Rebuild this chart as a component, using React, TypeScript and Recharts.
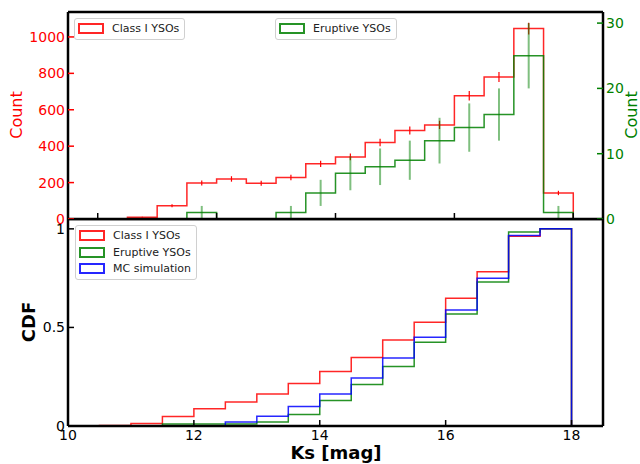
import React from 'react';
import { ComposedChart, Line, Scatter, ErrorBar, XAxis, YAxis, ReferenceLine } from 'recharts';

// bin edges of the Ks histograms (0.5 mag bins)
const binEdges = [10.5, 11, 11.5, 12, 12.5, 13, 13.5, 14, 14.5, 15, 15.5, 16, 16.5, 17, 17.5, 18];
const binCenters = [10.75, 11.25, 11.75, 12.25, 12.75, 13.25, 13.75, 14.25, 14.75, 15.25, 15.75, 16.25, 16.75, 17.25, 17.75];

// top panel: counts per bin
const classCounts = [10, 73, 198, 220, 196, 228, 303, 341, 420, 486, 517, 677, 780, 1046, 143];
const classErrors = [3, 8.5, 14, 15, 14, 15, 17, 18.5, 20.5, 22, 22.7, 26, 28, 32, 12];
const eruptiveCounts = [0, 0, 1, 0, 0, 1, 4, 7, 8, 9, 12, 14, 16, 25, 1];
const eruptiveErrors = [0, 0, 1, 0, 0, 1, 2, 2.6, 2.8, 3, 3.5, 3.7, 4, 5, 1];

// bottom panel: cumulative distributions
const classCdf = [0.002, 0.013, 0.048, 0.088, 0.122, 0.162, 0.216, 0.277, 0.348, 0.436, 0.526, 0.648, 0.783, 0.963, 1.0];
const eruptiveCdf = [0, 0, 0.01, 0.01, 0.01, 0.02, 0.058, 0.129, 0.21, 0.302, 0.425, 0.568, 0.73, 0.984, 1.0];
const mcCdf = [0, 0, 0, 0, 0.02, 0.05, 0.099, 0.162, 0.243, 0.345, 0.45, 0.589, 0.75, 0.966, 1.0];

const magTicks = [10, 12, 14, 16, 18];
const countTicks = [0, 200, 400, 600, 800, 1000];
const eruptiveTicks = [0, 10, 20, 30];
const cdfTicks = [0, 0.5, 1];

const FONT = 'DejaVu Sans';
const RED = '#ff0000';
const GREEN = '#008000';
const BLUE = '#0000ff';

// outline of a step histogram, like histtype='step'
function stepData(values: number[]) {
  const pts = [{ x: binEdges[0], y: 0 }];
  values.forEach((v, i) => pts.push({ x: binEdges[i], y: v }));
  pts.push({ x: binEdges[binEdges.length - 1], y: 0 });
  return pts;
}

function errData(values: number[], errors: number[]) {
  return binCenters
    .map((x, i) => ({ x, y: values[i], err: errors[i] }))
    .filter((d) => d.y > 0);
}

const xTick = (showLabel: boolean) => (props: any) => {
  const { x, y, payload } = props;
  return (
    <g>
      <line x1={x} x2={x} y1={y} y2={y - 6} stroke="#000" strokeWidth={1.5} />
      {showLabel && (
        <text x={x} y={y + 14} textAnchor="middle" fontSize={14} fontFamily={FONT} fill="#000">
          {payload.value}
        </text>
      )}
    </g>
  );
};

const leftTick = (color: string) => (props: any) => {
  const { x, y, payload } = props;
  return (
    <g>
      <line x1={x} x2={x + 6} y1={y} y2={y} stroke={color} strokeWidth={1.5} />
      <text x={x - 3} y={y} dy={5} textAnchor="end" fontSize={14} fontFamily={FONT} fill={color}>
        {payload.value}
      </text>
    </g>
  );
};

const rightTick = (color: string) => (props: any) => {
  const { x, y, payload } = props;
  return (
    <g>
      <line x1={x - 6} x2={x} y1={y} y2={y} stroke={color} strokeWidth={1.5} />
      <text x={x + 3} y={y} dy={5} textAnchor="start" fontSize={14} fontFamily={FONT} fill={color}>
        {payload.value}
      </text>
    </g>
  );
};

const spine = { stroke: '#000', strokeWidth: 2.5 };
const noShape = () => <g />;

function LegendBox({ left, top, width, items }: { left: number; top: number; width: number; items: { label: string; color: string }[] }) {
  return (
    <div
      style={{
        position: 'absolute',
        left,
        top,
        width,
        padding: '1px 0 2px',
        background: 'rgba(255,255,255,0.8)',
        border: '1px solid #d0d0d0',
        borderRadius: 3,
        boxSizing: 'border-box',
      }}
    >
      {items.map((it) => (
        <div key={it.label} style={{ display: 'flex', alignItems: 'center', height: 16.7 }}>
          <div style={{ width: 22, height: 7, border: `2px solid ${it.color}`, marginLeft: 3, marginRight: 8, opacity: 0.85 }} />
          <span style={{ fontSize: 11, fontFamily: FONT, color: '#222', whiteSpace: 'nowrap' }}>{it.label}</span>
        </div>
      ))}
    </div>
  );
}

function AxisTitle({ text, cx, cy, color, bold, size, rotate }: { text: string; cx: number; cy: number; color: string; bold?: boolean; size: number; rotate?: boolean }) {
  return (
    <div
      style={{
        position: 'absolute',
        left: cx,
        top: cy,
        transform: `translate(-50%, -50%)${rotate ? ' rotate(-90deg)' : ''}`,
        fontFamily: FONT,
        fontSize: size,
        fontWeight: bold ? 'bold' : 'normal',
        color,
        whiteSpace: 'nowrap',
        lineHeight: 0.9,
      }}
    >
      {text}
    </div>
  );
}

export default function App() {
  return (
    <div style={{ position: 'relative', width: 640, height: 464, background: '#fff', overflow: 'hidden' }}>
      <style>{'body{margin:0}'}</style>

      {/* top panel: histograms */}
      <div style={{ position: 'absolute', left: 0, top: 0 }}>
        <ComposedChart width={640} height={232} margin={{ top: 12, right: 0, bottom: 0, left: 0 }}>
          <Line
            data={stepData(classCounts)}
            dataKey="y"
            yAxisId="left"
            type="stepAfter"
            stroke={RED}
            strokeOpacity={0.85}
            strokeWidth={1.5}
            dot={false}
            isAnimationActive={false}
          />
          <Scatter data={errData(classCounts, classErrors)} dataKey="y" yAxisId="left" shape={noShape} isAnimationActive={false}>
            <ErrorBar dataKey="err" direction="y" width={0} stroke={RED} strokeWidth={1.2} />
          </Scatter>
          <Line
            data={stepData(eruptiveCounts)}
            dataKey="y"
            yAxisId="right"
            type="stepAfter"
            stroke={GREEN}
            strokeOpacity={0.85}
            strokeWidth={1.5}
            dot={false}
            isAnimationActive={false}
          />
          <Scatter data={errData(eruptiveCounts, eruptiveErrors)} dataKey="y" yAxisId="right" shape={noShape} isAnimationActive={false}>
            <ErrorBar dataKey="err" direction="y" width={0} stroke={GREEN} strokeOpacity={0.5} strokeWidth={2} />
          </Scatter>
          <ReferenceLine y={1137} yAxisId="left" stroke="#000" strokeWidth={2.5} />
          <XAxis
            dataKey="x"
            type="number"
            domain={[9.5, 18.5]}
            allowDataOverflow
            ticks={magTicks}
            interval={0}
            height={13}
            tickSize={0}
            tickMargin={0}
            tickLine={false}
            tick={xTick(false)}
            axisLine={spine}
          />
          <YAxis
            yAxisId="left"
            type="number"
            width={68}
            domain={[0, 1137]}
            allowDataOverflow
            ticks={countTicks}
            interval={0}
            tickSize={0}
            tickMargin={0}
            tickLine={false}
            tick={leftTick(RED)}
            axisLine={spine}
          />
          <YAxis
            yAxisId="right"
            orientation="right"
            type="number"
            width={37}
            domain={[0, 31.7]}
            allowDataOverflow
            ticks={eruptiveTicks}
            interval={0}
            tickSize={0}
            tickMargin={0}
            tickLine={false}
            tick={rightTick(GREEN)}
            axisLine={spine}
          />
        </ComposedChart>
      </div>

      {/* bottom panel: cumulative distributions */}
      <div style={{ position: 'absolute', left: 0, top: 219 }}>
        <ComposedChart width={640} height={245} margin={{ top: 0, right: 0, bottom: 0, left: 0 }}>
          <Line data={stepData(classCdf)} dataKey="y" type="stepAfter" stroke={RED} strokeOpacity={0.85} strokeWidth={1.5} dot={false} isAnimationActive={false} />
          <Line data={stepData(eruptiveCdf)} dataKey="y" type="stepAfter" stroke={GREEN} strokeOpacity={0.85} strokeWidth={1.5} dot={false} isAnimationActive={false} />
          <Line data={stepData(mcCdf)} dataKey="y" type="stepAfter" stroke={BLUE} strokeOpacity={0.85} strokeWidth={1.5} dot={false} isAnimationActive={false} />
          <ReferenceLine y={1.05} stroke="#000" strokeWidth={2.5} />
          <XAxis
            dataKey="x"
            type="number"
            domain={[10, 18.5]}
            allowDataOverflow
            ticks={magTicks}
            interval={0}
            height={38}
            tickSize={0}
            tickMargin={0}
            tickLine={false}
            tick={xTick(true)}
            axisLine={spine}
          />
          <YAxis
            type="number"
            width={68}
            domain={[0, 1.05]}
            allowDataOverflow
            ticks={cdfTicks}
            interval={0}
            tickSize={0}
            tickMargin={0}
            tickLine={false}
            tick={leftTick('#000')}
            axisLine={spine}
          />
          <YAxis yAxisId="r" orientation="right" width={37} tick={false} tickLine={false} axisLine={spine} />
        </ComposedChart>
      </div>

      <LegendBox left={74} top={18} width={111} items={[{ label: 'Class I YSOs', color: RED }]} />
      <LegendBox left={275} top={18} width={122} items={[{ label: 'Eruptive YSOs', color: GREEN }]} />
      <LegendBox
        left={75}
        top={225}
        width={122}
        items={[
          { label: 'Class I YSOs', color: RED },
          { label: 'Eruptive YSOs', color: GREEN },
          { label: 'MC simulation', color: BLUE },
        ]}
      />

      <AxisTitle text="Count" cx={17} cy={115} color={RED} size={16} rotate />
      <AxisTitle text="Count" cx={632} cy={115} color={GREEN} size={16} rotate />
      <AxisTitle text="CDF" cx={29} cy={322} color="#000" size={18} bold rotate />
      <AxisTitle text="Ks [mag]" cx={336} cy={453} color="#000" size={18} bold />
    </div>
  );
}
